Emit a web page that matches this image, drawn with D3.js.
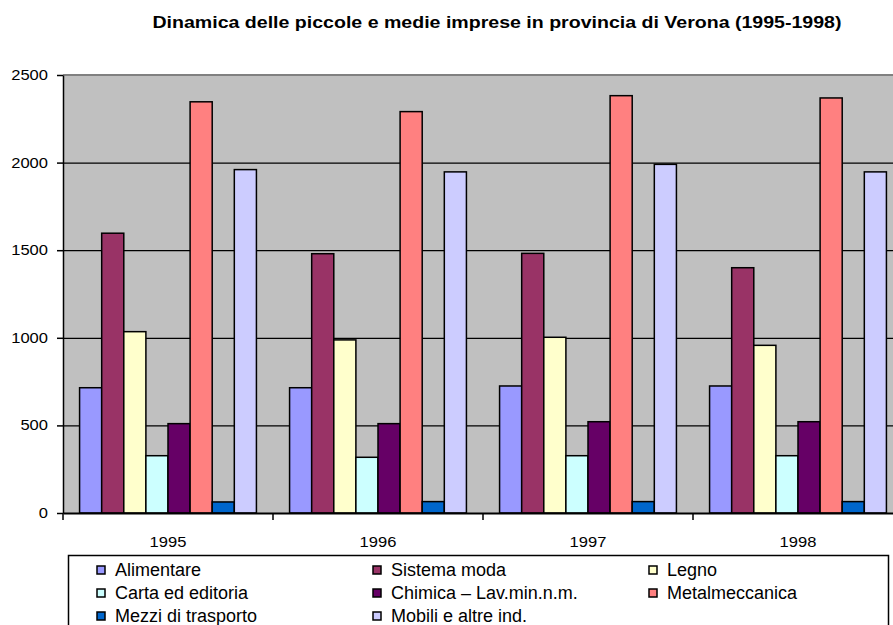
<!DOCTYPE html>
<html lang="it">
<head>
<meta charset="UTF-8">
<title>Dinamica PMI Verona</title>
<style>
    body { margin: 0; background: #fff; }
    svg { display: block; font-family: "Liberation Sans", Arial, sans-serif; }
    .axis path, .axis line { fill: none; stroke: #000; }
    .axis text { font-size: 14px; fill: #000; }
    .grid line { stroke: #000; stroke-width: 1.3; }
    .grid path { display: none; }
    .bar { stroke: #000; stroke-width: 1.5; }
    .leg text { font-size: 18px; fill: #000; }
</style>
</head>
<body>
<svg></svg>
<script src="https://cdn.jsdelivr.net/npm/d3@7"></script>
<script>
    var years = ["1995", "1996", "1997", "1998"];
    var settori = ["Alimentare", "Sistema moda", "Legno", "Carta ed editoria",
        "Chimica \u2013 Lav.min.n.m.", "Metalmeccanica", "Mezzi di trasporto", "Mobili e altre ind."];
    var colori = ["#9999FF", "#993366", "#FFFFCC", "#CCFFFF", "#660066", "#FF8080", "#0066CC", "#CCCCFF"];
    // valori per settore, un elemento per anno
    var alimentare = [715, 715, 725, 725];
    var moda = [1597, 1480, 1482, 1400];
    var legno = [1035, 988, 1003, 957];
    var carta = [327, 318, 327, 327];
    var chimica = [510, 510, 521, 521];
    var metal = [2347, 2291, 2382, 2369];
    var mezzi = [63, 65, 65, 65];
    var mobili = [1960, 1947, 1990, 1947];
    var serie = [alimentare, moda, legno, carta, chimica, metal, mezzi, mobili];
    var yTicks = [0, 500, 1000, 1500, 2000, 2500];

    var W = 893, H = 625;
    var pLeft = 63, pTop = 75, pBottom = 513, pRight = 903;

    var svg = d3.select("svg").attr("width", W).attr("height", H);

    // titolo
    svg.append("text")
        .attr("x", 497).attr("y", 28)
        .attr("text-anchor", "middle")
        .attr("font-size", 16).attr("font-weight", "bold")
        .attr("textLength", 689).attr("lengthAdjust", "spacingAndGlyphs")
        .text("Dinamica delle piccole e medie imprese in provincia di Verona (1995-1998)");

    var x0 = d3.scaleBand().domain(years).range([pLeft, pRight]).paddingInner(0).paddingOuter(0);
    var x1 = d3.scaleBand().domain(d3.range(settori.length)).range([0, x0.bandwidth()])
        .paddingInner(0).paddingOuter(0.75);
    var y = d3.scaleLinear().domain([0, 2500]).range([pBottom, pTop]);

    // area del grafico
    svg.append("rect")
        .attr("x", pLeft).attr("y", pTop)
        .attr("width", pRight - pLeft).attr("height", pBottom - pTop)
        .attr("fill", "#C0C0C0");
    svg.append("line")
        .attr("x1", pLeft).attr("x2", pRight).attr("y1", pTop).attr("y2", pTop)
        .attr("stroke", "#808080").attr("stroke-width", 2);

    // griglia
    svg.append("g")
        .attr("class", "grid")
        .attr("transform", "translate(" + pLeft + ",0)")
        .call(d3.axisRight(y).tickValues(yTicks.slice(1, 5)).tickSize(pRight - pLeft).tickFormat(""));

    // barre
    var gruppi = svg.selectAll(".anno")
        .data(years)
        .enter()
        .append("g")
        .attr("class", "anno")
        .attr("transform", function (d) { return "translate(" + x0(d) + ",0)"; });

    gruppi.selectAll("rect")
        .data(function (d, i) {
            return serie.map(function (s, k) { return { k: k, v: s[i] }; });
        })
        .enter()
        .append("rect")
        .attr("class", "bar")
        .attr("x", function (d) { return x1(d.k); })
        .attr("y", function (d) { return y(d.v); })
        .attr("width", x1.bandwidth())
        .attr("height", function (d) { return pBottom - y(d.v); })
        .attr("fill", function (d) { return colori[d.k]; });

    // i numeri dell'originale sono un po' allargati
    function allarga(sel) {
        sel.attr("textLength", function () { return this.textContent.length * 9.2; })
            .attr("lengthAdjust", "spacingAndGlyphs");
    }

    // asse y
    var yAxis = svg.append("g")
        .attr("class", "axis")
        .attr("transform", "translate(" + pLeft + ",0)")
        .call(d3.axisLeft(y).tickValues(yTicks).tickFormat(d3.format("d"))
            .tickSize(6).tickSizeOuter(0).tickPadding(9));
    yAxis.selectAll("path, line").attr("stroke-width", 1.5);
    yAxis.selectAll("text").call(allarga);

    // asse x
    var xAxis = svg.append("g")
        .attr("class", "axis")
        .attr("transform", "translate(0," + pBottom + ")")
        .call(d3.axisBottom(x0).tickSize(0).tickPadding(24));
    xAxis.select("path").attr("stroke-width", 2);
    xAxis.selectAll("text").call(allarga);
    xAxis.selectAll(".sep")
        .data(years)
        .enter()
        .append("line")
        .attr("x1", function (d) { return x0(d); })
        .attr("x2", function (d) { return x0(d); })
        .attr("y1", 0).attr("y2", 7)
        .attr("stroke", "#000").attr("stroke-width", 1.5);

    // legenda
    svg.append("rect")
        .attr("x", 68.5).attr("y", 555.5)
        .attr("width", 820).attr("height", 90)
        .attr("fill", "#fff").attr("stroke", "#000").attr("stroke-width", 1.5);

    var leg = svg.selectAll(".leg")
        .data(settori)
        .enter()
        .append("g")
        .attr("class", "leg")
        .attr("transform", function (d, i) {
            return "translate(" + (97 + (i % 3) * 276) + "," + (570 + Math.floor(i / 3) * 23) + ")";
        });
    leg.append("rect")
        .attr("x", 0).attr("y", -4)
        .attr("width", 8).attr("height", 8)
        .attr("fill", function (d, i) { return colori[i]; })
        .attr("stroke", "#000").attr("stroke-width", 1.5);
    leg.append("text")
        .attr("x", 18).attr("dy", "0.35em")
        .text(function (d) { return d; });
</script>
</body>
</html>
